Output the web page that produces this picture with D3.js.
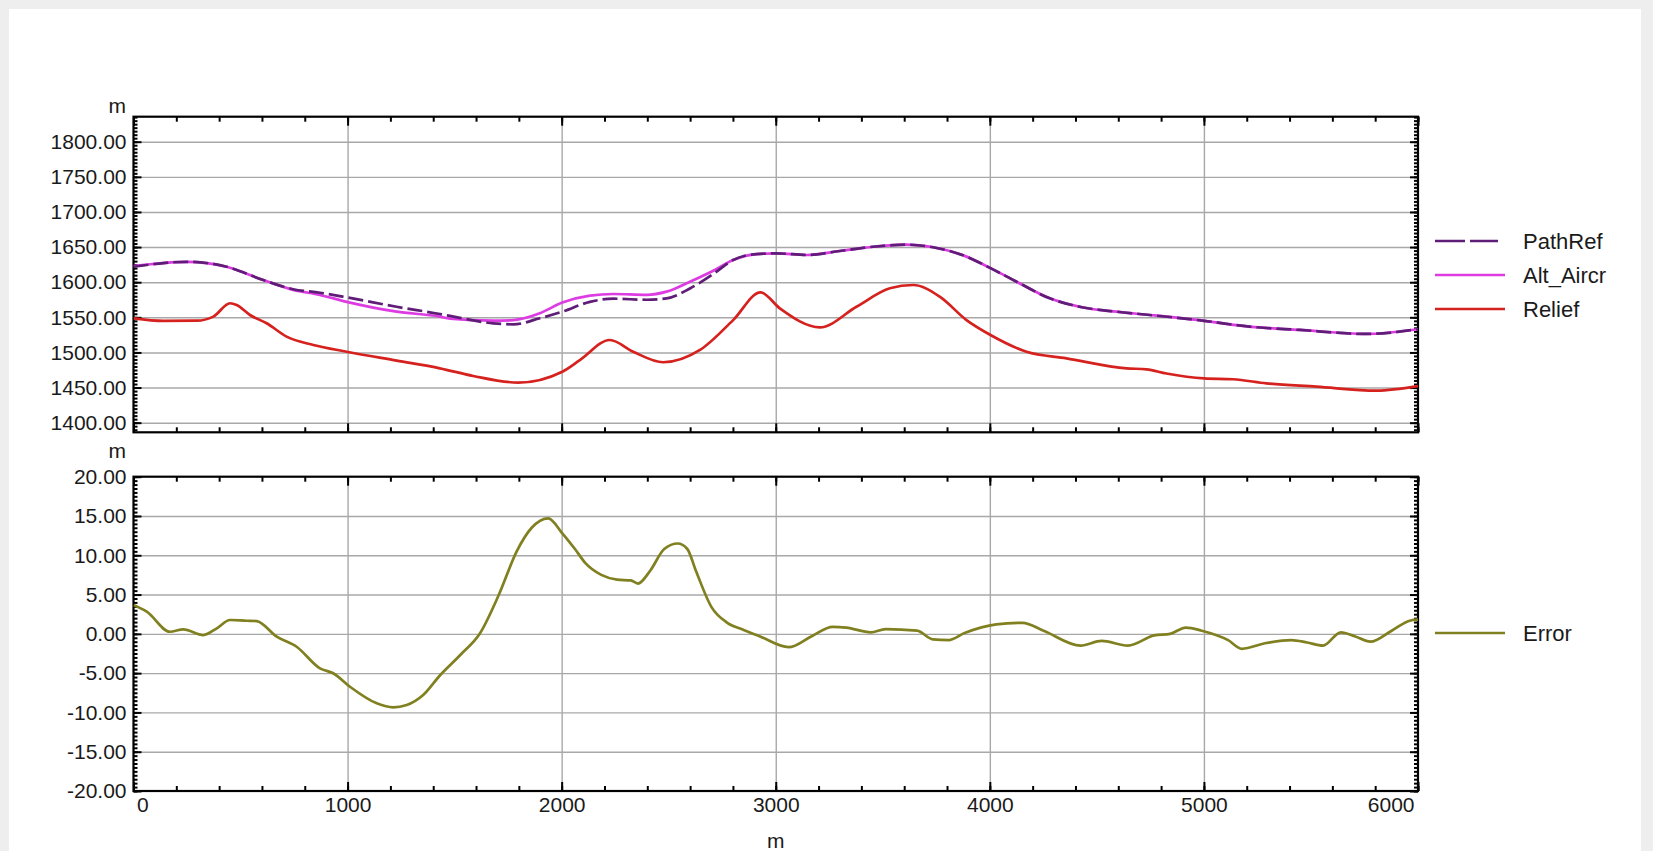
<!DOCTYPE html>
<html>
<head>
<meta charset="utf-8">
<script src="https://cdn.jsdelivr.net/npm/d3@7"></script>
<style>
  html, body { margin: 0; padding: 0; background: #eeeeee; }
  svg { display: block; font-family: "Liberation Sans", Arial, sans-serif; }
  .grid line { stroke: #a8a8a8; stroke-width: 1.4; }
  .grid .domain { display: none; }
  .ax .domain { display: none; }
  .ax line { stroke: #000; stroke-width: 2; }
  .ax text { fill: #1a1a1a; font-size: 21px; }
  .lbl { fill: #1a1a1a; font-size: 21px; }
  .leg { fill: #1a1a1a; font-size: 22px; }
</style>
</head>
<body>
<svg id="chart" width="1653" height="851"></svg>
<script>
// ── data (distance in m, altitude / error in m) ─────────────────────────────
const xTicks   = [0, 1000, 2000, 3000, 4000, 5000, 6000];
const altTicks = [1400, 1450, 1500, 1550, 1600, 1650, 1700, 1750, 1800];
const errTicks = [-20, -15, -10, -5, 0, 5, 10, 15, 20];

const pathRefDist = [0, 250, 435, 606, 746, 871, 996, 1229, 1431, 1478, 1680, 1774, 1898, 2003,
  2132, 2241, 2397, 2490, 2599, 2708, 2801, 2910, 3004, 3144, 3299, 3455, 3611, 3735, 3891,
  4003, 4125, 4280, 4436, 4592, 4747, 5001, 5214, 5448, 5759, 6000];
const pathRefAlt  = [1622, 1629, 1622, 1603, 1590, 1585, 1578.5, 1565, 1554.7, 1552, 1541.5, 1540,
  1548.6, 1558, 1572, 1576.5, 1575, 1577, 1591, 1611.7, 1631.6, 1640, 1641, 1638.7, 1644.4,
  1650.5, 1653.4, 1649.7, 1636.4, 1620, 1600.7, 1577, 1564, 1558, 1553.3, 1545, 1536.7, 1532,
  1526.3, 1533];

const altAircrDist = [0, 250, 435, 606, 746, 871, 996, 1229, 1431, 1478, 1680, 1774, 1898, 2003,
  2132, 2241, 2397, 2490, 2599, 2708, 2801, 2910, 3004, 3144, 3299, 3455, 3611, 3735, 3891,
  4003, 4125, 4280, 4436, 4592, 4747, 5001, 5214, 5448, 5759, 6000];
const altAircrAlt  = [1623, 1629, 1622, 1603, 1589, 1581.8, 1572, 1558, 1551, 1548, 1545.2, 1546,
  1555.7, 1571, 1581, 1583.2, 1582, 1586.5, 1600.7, 1616.4, 1631.6, 1640, 1641, 1638.7, 1644.4,
  1650.5, 1653.4, 1649.7, 1636.4, 1620, 1600.7, 1577, 1564, 1558, 1553.3, 1545, 1536.7, 1532,
  1526.3, 1533];

const reliefDist = [0, 139, 295, 373, 451, 482, 544, 622, 715, 840, 996, 1229, 1431, 1587, 1797,
  2003, 2085, 2225, 2334, 2474, 2646, 2801, 2929, 3019, 3206, 3377, 3533, 3642, 3766, 3891,
  4003, 4171, 4358, 4639, 4732, 4825, 5001, 5136, 5292, 5526, 5806, 6000];
const reliefAlt  = [1548.6, 1545, 1545.2, 1551, 1570, 1567.5, 1553.3, 1541.5, 1522.5, 1510.6, 1501,
  1488.3, 1477.4, 1466.5, 1457, 1472.6, 1489, 1517.7, 1501, 1486, 1503.5, 1546, 1585.6, 1562.8,
  1535.7, 1565, 1591.3, 1596, 1579.4, 1546, 1524.8, 1501, 1491.6, 1477.4, 1476, 1470, 1463,
  1461.8, 1456, 1451.3, 1445.6, 1452];

const errorDist = [0, 62, 170, 233, 326, 389, 451, 529, 575, 669, 762, 871, 933, 1011, 1136, 1213,
  1276, 1353, 1431, 1530, 1617, 1707, 1790, 1860, 1937, 2003, 2062, 2111, 2185, 2259, 2323,
  2356, 2415, 2479, 2542, 2587, 2626, 2700, 2774, 2850, 2924, 3060, 3168, 3266, 3330, 3444,
  3513, 3660, 3734, 3808, 3882, 4030, 4153, 4251, 4424, 4522, 4645, 4768, 4842, 4916, 4990,
  5113, 5177, 5285, 5408, 5482, 5556, 5640, 5704, 5778, 5877, 5965, 6000];
const errorVal  = [3.67, 2.82, 0.27, 0.58, -0.15, 0.7, 1.76, 1.67, 1.63, -0.36, -1.64, -4.39, -5.02,
  -6.73, -8.84, -9.35, -9.06, -7.79, -5.3, -2.6, 0, 5, 10.5, 13.5, 14.7, 12.8, 10.8, 9, 7.5,
  6.9, 6.8, 6.4, 8.1, 10.8, 11.5, 10.8, 8.1, 3.4, 1.4, 0.5, -0.3, -1.7, -0.3, 0.9, 0.8, 0.2,
  0.6, 0.4, -0.7, -0.8, 0.1, 1.2, 1.4, 0.4, -1.5, -0.9, -1.5, -0.2, 0, 0.8, 0.4, -0.8, -1.9,
  -1.2, -0.8, -1.1, -1.5, 0.2, -0.3, -1.0, 0.4, 1.7, 1.8];

// ── layout ──────────────────────────────────────────────────────────────────
const X0 = 133.5, X1 = 1418;
const TOP = { y0: 116.7, y1: 432.3, dom: [1386.3, 1835.6], unitY: 113 };
const BOT = { y0: 476.7, y1: 791,   dom: [-20, 20],        unitY: 458 };

const svg = d3.select("#chart");
svg.append("rect").attr("x", 9).attr("y", 9).attr("width", 1632).attr("height", 842).attr("fill", "#fff");

const x = d3.scaleLinear().domain([0, 6000]).range([X0, X1]);
const yTop = d3.scaleLinear().domain(TOP.dom).range([TOP.y1, TOP.y0]);
const yBot = d3.scaleLinear().domain(BOT.dom).range([BOT.y1, BOT.y0]);

const fmt2 = v => v.toFixed(2);

function panel(P, y, majors, minorStep, id, showX) {
  const W = X1 - X0, H = P.y1 - P.y0;
  const g = svg.append("g");

  svg.append("clipPath").attr("id", id).append("rect")
    .attr("x", X0).attr("y", P.y0).attr("width", W).attr("height", H);

  // grid
  const inside = majors.filter(v => y(v) > P.y0 + 2 && y(v) < P.y1 - 2);
  g.append("g").attr("class", "grid").attr("transform", `translate(${X0},0)`)
    .call(d3.axisLeft(y).tickValues(inside).tickSize(-W).tickFormat(""));
  g.append("g").attr("class", "grid").attr("transform", `translate(0,${P.y1})`)
    .call(d3.axisBottom(x).tickValues(xTicks.slice(1, -1)).tickSize(-H).tickFormat(""));

  // minor ticks
  const lo = Math.ceil(P.dom[0] / minorStep) * minorStep;
  const minors = d3.range(lo, P.dom[1] + 1e-9, minorStep);
  const xMinors = d3.range(0, 6001, 200);
  g.append("g").attr("class", "ax").attr("transform", `translate(${X0},0)`)
    .call(d3.axisLeft(y).tickValues(minors).tickSize(-4).tickFormat(""));
  g.append("g").attr("class", "ax").attr("transform", `translate(${X1},0)`)
    .call(d3.axisRight(y).tickValues(minors).tickSize(-4).tickFormat(""));
  g.append("g").attr("class", "ax").attr("transform", `translate(0,${P.y0})`)
    .call(d3.axisTop(x).tickValues(xMinors).tickSize(-5).tickFormat(""));
  g.append("g").attr("class", "ax").attr("transform", `translate(0,${P.y1})`)
    .call(d3.axisBottom(x).tickValues(xMinors).tickSize(-5).tickFormat(""));

  // major ticks + labels
  g.append("g").attr("class", "ax").attr("transform", `translate(${X0},0)`)
    .call(d3.axisLeft(y).tickValues(majors).tickSize(-8).tickPadding(7).tickFormat(fmt2));
  g.append("g").attr("class", "ax").attr("transform", `translate(${X1},0)`)
    .call(d3.axisRight(y).tickValues(majors).tickSize(-8).tickFormat(""));
  g.append("g").attr("class", "ax").attr("transform", `translate(0,${P.y0})`)
    .call(d3.axisTop(x).tickValues(xTicks).tickSize(-9).tickFormat(""));
  const xb = g.append("g").attr("class", "ax").attr("transform", `translate(0,${P.y1})`)
    .call(d3.axisBottom(x).tickValues(xTicks).tickSize(-9).tickPadding(6)
      .tickFormat(showX ? d3.format("d") : ""));
  if (showX) {
    xb.selectAll(".tick text")
      .attr("text-anchor", d => d === 0 ? "start" : d === 6000 ? "end" : "middle")
      .attr("dx", d => d === 0 ? 3 : d === 6000 ? -4 : 0);
  }

  // frame
  g.append("rect").attr("x", X0).attr("y", P.y0).attr("width", W).attr("height", H)
    .attr("fill", "none").attr("stroke", "#000").attr("stroke-width", 2.2);

  // unit label
  svg.append("text").attr("class", "lbl").attr("x", 126).attr("y", P.unitY)
    .attr("text-anchor", "end").text("m");
  return g;
}

panel(TOP, yTop, altTicks, 5, "clipTop", false);
panel(BOT, yBot, errTicks, 0.5, "clipBot", true);

svg.append("text").attr("class", "lbl").attr("x", (X0 + X1) / 2).attr("y", 848)
  .attr("text-anchor", "middle").text("m");

// ── series ──────────────────────────────────────────────────────────────────
function drawLine(dist, vals, y, clip, color, dash) {
  const line = d3.line().x(d => x(d[0])).y(d => y(d[1])).curve(d3.curveMonotoneX);
  svg.append("path")
    .datum(d3.zip(dist, vals))
    .attr("clip-path", `url(#${clip})`)
    .attr("d", line)
    .attr("fill", "none")
    .attr("stroke", color)
    .attr("stroke-width", 2.7)
    .attr("stroke-linejoin", "round")
    .attr("stroke-dasharray", dash || null);
}

const C = { pathRef: "#5f1d78", alt: "#dd3ce3", relief: "#d6221e", error: "#808020" };

drawLine(altAircrDist, altAircrAlt, yTop, "clipTop", C.alt);
drawLine(pathRefDist, pathRefAlt, yTop, "clipTop", C.pathRef, "15,5");
drawLine(reliefDist, reliefAlt, yTop, "clipTop", C.relief);
drawLine(errorDist, errorVal, yBot, "clipBot", C.error);

// ── legends ────────────────────────────────────────────────────────────────
const legend = [
  { name: "PathRef",   color: C.pathRef, y: 241, x2: 1498, dash: "30,5" },
  { name: "Alt_Aircr", color: C.alt,     y: 275, x2: 1505 },
  { name: "Relief",    color: C.relief,  y: 309, x2: 1505 },
  { name: "Error",     color: C.error,   y: 633, x2: 1505 }
];
const lg = svg.append("g").selectAll("g").data(legend).join("g");
lg.append("line")
  .attr("x1", 1435).attr("x2", d => d.x2).attr("y1", d => d.y).attr("y2", d => d.y)
  .attr("stroke", d => d.color).attr("stroke-width", 2.7)
  .attr("stroke-dasharray", d => d.dash || null);
lg.append("text").attr("class", "leg")
  .attr("x", 1523).attr("y", d => d.y).attr("dy", "0.35em").text(d => d.name);
</script>
</body>
</html>
